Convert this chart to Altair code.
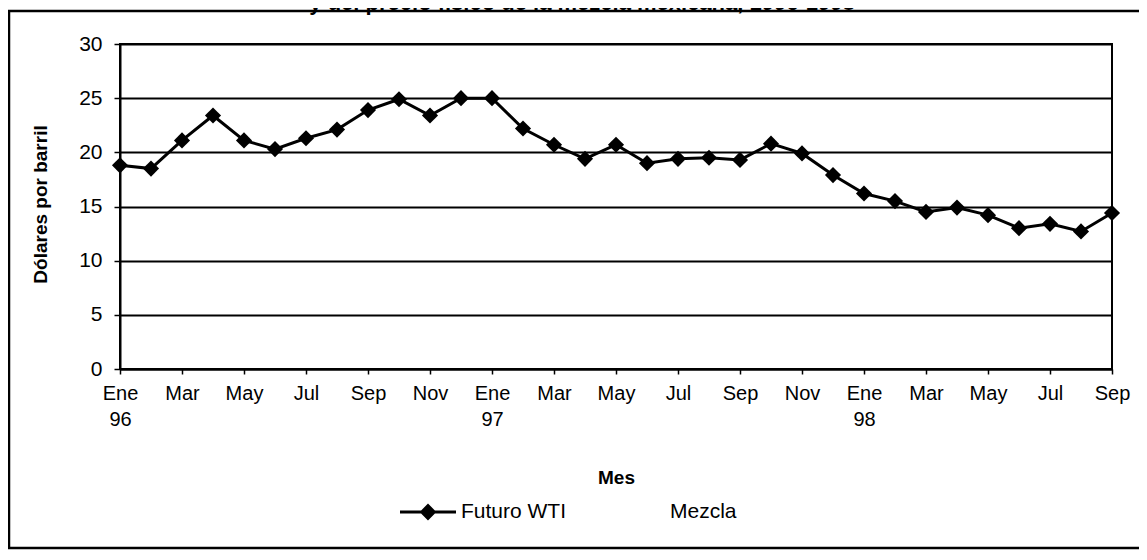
import json
import altair as alt
import pandas as pd

meses = ["Ene", "Feb", "Mar", "Abr", "May", "Jun", "Jul", "Ago", "Sep", "Oct", "Nov", "Dic"]
anios = ["96", "97", "98"]
futuro_wti = [18.8, 18.5, 21.1, 23.4, 21.1, 20.3, 21.3, 22.1, 23.9, 24.9, 23.4, 25.0,
              25.0, 22.2, 20.7, 19.4, 20.7, 19.0, 19.4, 19.5, 19.3, 20.8, 19.9, 17.9,
              16.2, 15.5, 14.5, 14.9, 14.2, 13.0, 13.4, 12.7, 14.4]
series = ["Futuro WTI", "Mezcla"]
y_ticks = [0, 5, 10, 15, 20, 25, 30]
titulo = "y del precio físico de la mezcla mexicana, 1996-1998"

n = len(futuro_wti)
df = pd.DataFrame({
    "idx": list(range(n)),
    "valor": futuro_wti,
    "serie": [series[0]] * n,
})

labels = []
for i in range(n):
    if i % 2:
        labels.append("")
    elif i % 12 == 0:
        labels.append([meses[i % 12], anios[i // 12]])
    else:
        labels.append(meses[i % 12])
label_expr = json.dumps(labels, ensure_ascii=False) + "[datum.value]"

FONT = "Liberation Sans"

x_enc = alt.X("idx:Q",
              scale=alt.Scale(domain=[0, n - 1], nice=False, zero=False),
              axis=alt.Axis(values=list(range(n)), labelExpr=label_expr, grid=False,
                            tickSize=5, tickColor="black", tickWidth=1.5,
                            domainColor="black", domainWidth=2,
                            labelFont=FONT, labelFontSize=20, labelColor="black",
                            labelBaseline="top", labelPadding=9, labelLineHeight=26,
                            labelFlush=False, labelOverlap=False,
                            title="Mes", titleFont=FONT, titleFontSize=19,
                            titleFontWeight="bold", titleColor="black",
                            titleY=108, titleBaseline="middle"))
y_enc = alt.Y("valor:Q",
              scale=alt.Scale(domain=[0, 30], nice=False),
              axis=alt.Axis(values=y_ticks, grid=True, gridColor="black", gridWidth=2,
                            tickSize=6, tickColor="black", tickWidth=1.5,
                            domainColor="black", domainWidth=2,
                            labelFont=FONT, labelFontSize=21, labelColor="black",
                            labelPadding=12,
                            title="Dólares por barril", titleFont=FONT, titleFontSize=19,
                            titleFontWeight="bold", titleColor="black",
                            titleX=-80, titleY=160, titleAngle=-90,
                            titleBaseline="middle", titleAlign="center"))

legend_path = "M-1,-0.055H1V0.055H-1Z M-0.3,0L0,-0.3L0.3,0L0,0.3Z"
color_enc = alt.Color("serie:N",
                      scale=alt.Scale(domain=series, range=["black", "transparent"]),
                      legend=alt.Legend(orient="none", legendX=280, legendY=440,
                                        direction="horizontal", columns=2, title=None,
                                        symbolType=legend_path, symbolSize=3136,
                                        symbolStrokeWidth=0, symbolOpacity=1,
                                        labelFont=FONT, labelFontSize=21, labelColor="black",
                                        labelOffset=5, columnPadding=42, padding=0))

line = alt.Chart(df).mark_line(color="black", strokeWidth=3).encode(
    x=x_enc, y=y_enc
)
points = alt.Chart(df).mark_point(shape="diamond", filled=True, size=260,
                                  opacity=1).encode(
    x="idx:Q", y="valor:Q", color=color_enc
)

frame = alt.Chart(pd.DataFrame({"k": [0]})).mark_rect(
    filled=False, stroke="black", strokeWidth=2.5
).encode(x=alt.value(-111), x2=alt.value(1040), y=alt.value(-33), y2=alt.value(504))

title_txt = alt.Chart(pd.DataFrame({"t": [titulo]})).mark_text(
    font=FONT, fontSize=22, fontWeight="bold", color="black",
    baseline="alphabetic", align="center"
).encode(text="t:N", x=alt.value(462), y=alt.value(-34))

chart = alt.layer(frame, title_txt, line, points).properties(
    width=992, height=325,
    autosize=alt.AutoSizeParams(type="none"),
    padding={"left": 112, "top": 36, "right": 27, "bottom": 183},
    background="white",
).configure_view(stroke="black", strokeWidth=2)

chart.save("out.html", embed_options={"renderer": "svg", "actions": False})
